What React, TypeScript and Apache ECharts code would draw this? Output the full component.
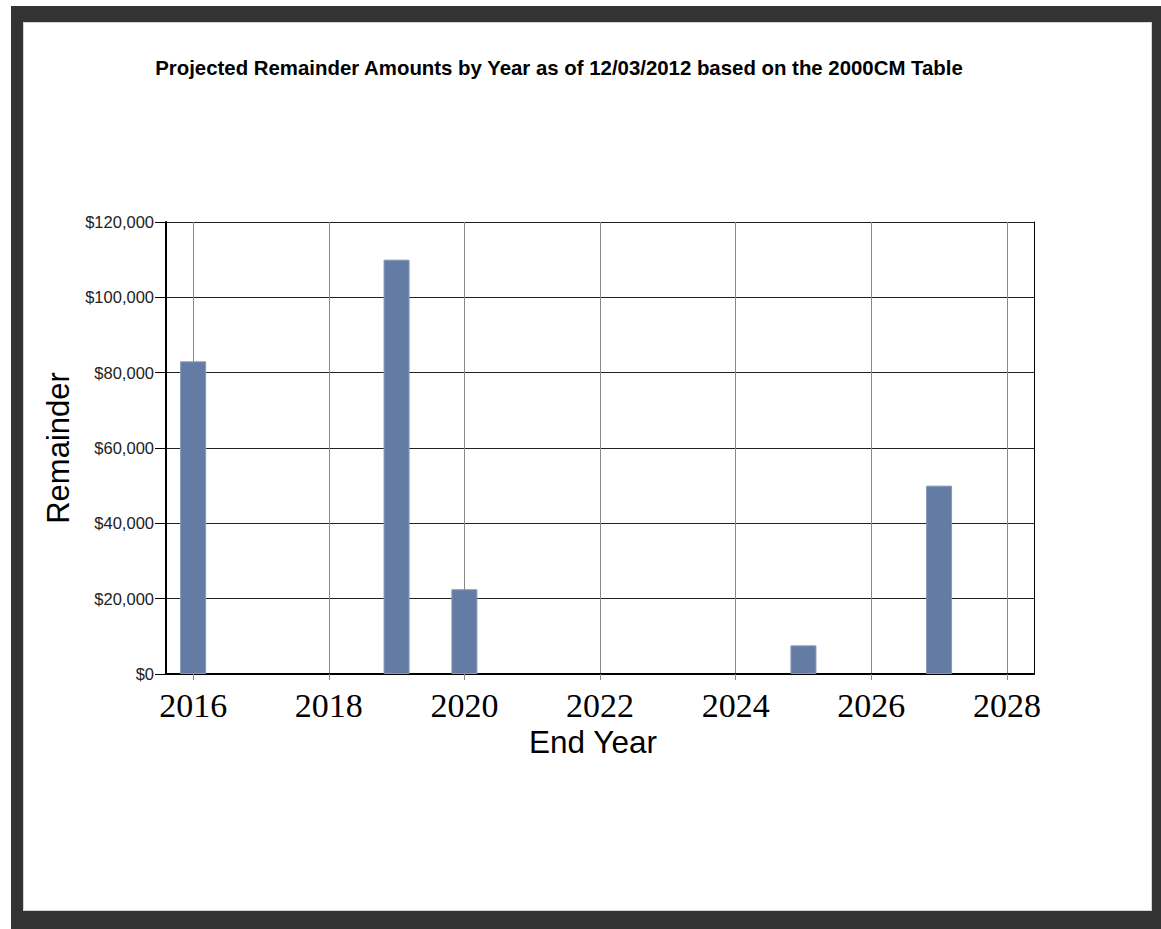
import React, { useEffect, useRef } from "react";
import * as echarts from "echarts";

const titleText = "Projected Remainder Amounts by Year as of 12/03/2012 based on the 2000CM Table";
const endYears = [2016, 2019, 2020, 2025, 2027];
const remainders = [83000, 110000, 22500, 7600, 50000];
const xTickYears = [2016, 2018, 2020, 2022, 2024, 2026, 2028];

export default function App() {
  const ref = useRef<HTMLDivElement>(null);
  useEffect(() => {
    if (!ref.current) return;
    const chart = echarts.init(ref.current, undefined, { renderer: "svg" });
    chart.setOption({
      animation: false,
      title: {
        text: titleText,
        left: 554,
        textAlign: "center",
        top: 53,
        textStyle: {
          fontFamily: "Liberation Sans, Arial, sans-serif",
          fontWeight: "bold",
          fontSize: 20.4,
          color: "#000",
        },
      },
      grid: {
        left: 166,
        top: 222,
        width: 868,
        height: 452,
        show: false,
      },
      xAxis: {
        type: "value",
        min: 2015.6,
        max: 2028.4,
        splitNumber: 6,
        name: "End Year",
        nameLocation: "middle",
        nameGap: 52,
        nameTextStyle: {
          fontFamily: "Liberation Sans, Arial, sans-serif",
          fontSize: 31.5,
          color: "#000",
          padding: [0, 14, 0, 0],
        },
        axisLine: { show: true, onZero: false, lineStyle: { color: "#000", width: 2 } },
        axisTick: {
          show: true,
          length: 6,
          lineStyle: { color: "#888", width: 1 },
          customValues: xTickYears,
        },
        axisLabel: {
          customValues: xTickYears,
          formatter: (v: number) => String(v),
          margin: 14,
          fontFamily: "Liberation Serif, Times New Roman, serif",
          fontSize: 34,
          color: "#000",
        },
        splitLine: { show: true, lineStyle: { color: "#888", width: 1 } },
      },
      yAxis: [
        {
          type: "value",
          min: 0,
          max: 120000,
          interval: 20000,
          name: "Remainder",
          nameLocation: "middle",
          nameGap: 92,
          nameTextStyle: {
            fontFamily: "Liberation Sans, Arial, sans-serif",
            fontSize: 31,
            color: "#000",
          },
          axisLine: { show: true, lineStyle: { color: "#000", width: 2 } },
          axisTick: { show: true, length: 11, lineStyle: { color: "#000", width: 1 } },
          axisLabel: {
            margin: 12,
            fontFamily: "Liberation Sans, Arial, sans-serif",
            fontSize: 16.5,
            color: "#222",
            formatter: (v: number) => "$" + v.toLocaleString("en-US"),
          },
          splitLine: { show: true, lineStyle: { color: "#222", width: 1 } },
        },
        {
          type: "value",
          position: "right",
          min: 0,
          max: 120000,
          interval: 20000,
          axisLine: { show: true, lineStyle: { color: "#000", width: 1 } },
          axisTick: { show: false },
          axisLabel: { show: false },
          splitLine: { show: false },
        },
      ],
      series: [
        {
          type: "bar",
          yAxisIndex: 0,
          barWidth: 26,
          data: endYears.map((y, i) => [y, remainders[i]]),
          itemStyle: { color: "#647ca3", borderColor: "#8597b8", borderWidth: 1 },
        },
      ],
    });
    return () => chart.dispose();
  }, []);

  return (
    <div style={{ position: "absolute", left: 0, top: 0, width: 1161, height: 929, background: "#fff" }}>
      <div style={{ position: "absolute", left: 11, top: 6, width: 1150, height: 923, background: "#333" }} />
      <div
        style={{
          position: "absolute",
          left: 23,
          top: 22,
          width: 1129,
          height: 889,
          background: "#fff",
          boxSizing: "border-box",
          border: "1px solid #d4d4d4",
        }}
      />
      <div ref={ref} style={{ position: "absolute", left: 0, top: 0, width: 1161, height: 929 }} />
    </div>
  );
}
